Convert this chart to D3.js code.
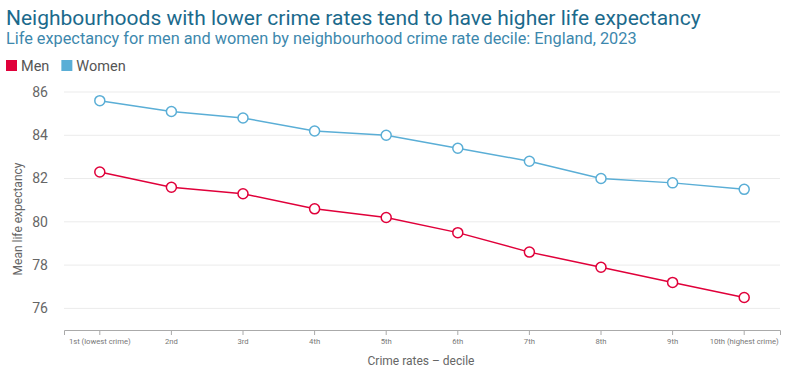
<!DOCTYPE html>
<html>
<head>
<meta charset="utf-8">
<script src="https://cdn.jsdelivr.net/npm/d3@7"></script>
<style>
  body { margin: 0; background: #fff; }
  svg { font-family: Roboto, "Liberation Sans", sans-serif; display: block; }
</style>
</head>
<body>
<div id="display"></div>
<script>
const deciles = ["1st (lowest crime)", "2nd", "3rd", "4th", "5th", "6th", "7th", "8th", "9th", "10th (highest crime)"]
const men = [82.3, 81.6, 81.3, 80.6, 80.2, 79.5, 78.6, 77.9, 77.2, 76.5]
const women = [85.6, 85.1, 84.8, 84.2, 84.0, 83.4, 82.8, 82.0, 81.8, 81.5]
const yTicks = [76, 78, 80, 82, 84, 86]

function chart(parentNode)
{
  let width = 800
  let height = 371
  let margin = {top: 92, right: 20, bottom: 41, left: 64}

  const series = [
    {name: "Men", values: men, color: "#e0003a"},
    {name: "Women", values: women, color: "#5aaed6"}
  ]

  let x = d3.scaleBand(deciles, [margin.left, width - margin.right])
  let y = d3.scaleLinear([75, 86], [height - margin.bottom, margin.top])

  const svg = d3.create("svg")
      .attr("width", width)
      .attr("height", height)
  parentNode.appendChild(svg.node())

  svg.append("text")
      .attr("x", 6).attr("y", 25)
      .attr("fill", "#1b6a8c")
      .attr("font-size", 21)
      .text("Neighbourhoods with lower crime rates tend to have higher life expectancy")

  svg.append("text")
      .attr("x", 6).attr("y", 44)
      .attr("fill", "#3d88ad")
      .attr("font-size", 16.3)
      .text("Life expectancy for men and women by neighbourhood crime rate decile: England, 2023")

  // legend
  const legend = svg.append("g").attr("transform", "translate(6,60)")
  let lx = 0
  series.forEach(s => {
    legend.append("rect").attr("x", lx).attr("y", 0).attr("width", 11).attr("height", 11).attr("fill", s.color)
    const t = legend.append("text").attr("x", lx + 15).attr("y", 11)
        .attr("font-size", 14.5).attr("fill", "#555").text(s.name)
    lx += 15 + t.node().getComputedTextLength() + 12
  })

  // grid
  svg.append("g")
    .selectAll("line")
    .data(yTicks)
    .join("line")
      .attr("x1", margin.left).attr("x2", width - margin.right)
      .attr("y1", d => y(d)).attr("y2", d => y(d))
      .attr("stroke", "#ebebeb")

  // y axis labels
  svg.append("g")
    .selectAll("text")
    .data(yTicks)
    .join("text")
      .attr("x", 48).attr("y", d => y(d))
      .attr("dy", "0.35em")
      .attr("text-anchor", "end")
      .attr("font-size", 14)
      .attr("fill", "#666")
      .text(d => d)

  svg.append("text")
      .attr("transform", `translate(22,${(margin.top + height - margin.bottom) / 2 + 8}) rotate(-90)`)
      .attr("text-anchor", "middle")
      .attr("font-size", 12)
      .attr("fill", "#666")
      .text("Mean life expectancy")

  // x axis
  const xAxis = svg.append("g")
      .attr("transform", `translate(0,${height - margin.bottom})`)
      .call(d3.axisBottom(x).tickSizeOuter(0).tickSize(5).tickPadding(4))
  xAxis.select(".domain").attr("stroke", "#aaa")
  xAxis.selectAll(".tick line").attr("stroke", "#aaa")
  xAxis.selectAll(".tick text").attr("font-size", 7.7).attr("fill", "#777")
      .attr("font-family", "Roboto, sans-serif")

  svg.append("text")
      .attr("x", 421).attr("y", 365)
      .attr("text-anchor", "middle")
      .attr("font-size", 12)
      .attr("fill", "#666")
      .text("Crime rates \u2013 decile")

  const cx = d => x(d) + x.bandwidth() / 2
  const line = d3.line()
      .x((v, i) => cx(deciles[i]))
      .y(v => y(v))

  series.forEach(s => {
    svg.append("path")
        .attr("d", line(s.values))
        .attr("fill", "none")
        .attr("stroke", s.color)
        .attr("stroke-width", 1.5)
    svg.append("g")
      .selectAll("circle")
      .data(s.values)
      .join("circle")
        .attr("cx", (v, i) => cx(deciles[i]))
        .attr("cy", v => y(v))
        .attr("r", 5)
        .attr("fill", "#fff")
        .attr("stroke", s.color)
        .attr("stroke-width", 1.5)
  })
}

document.addEventListener("DOMContentLoaded", () => {
  chart(document.getElementById("display"))
})
</script>
</body>
</html>
